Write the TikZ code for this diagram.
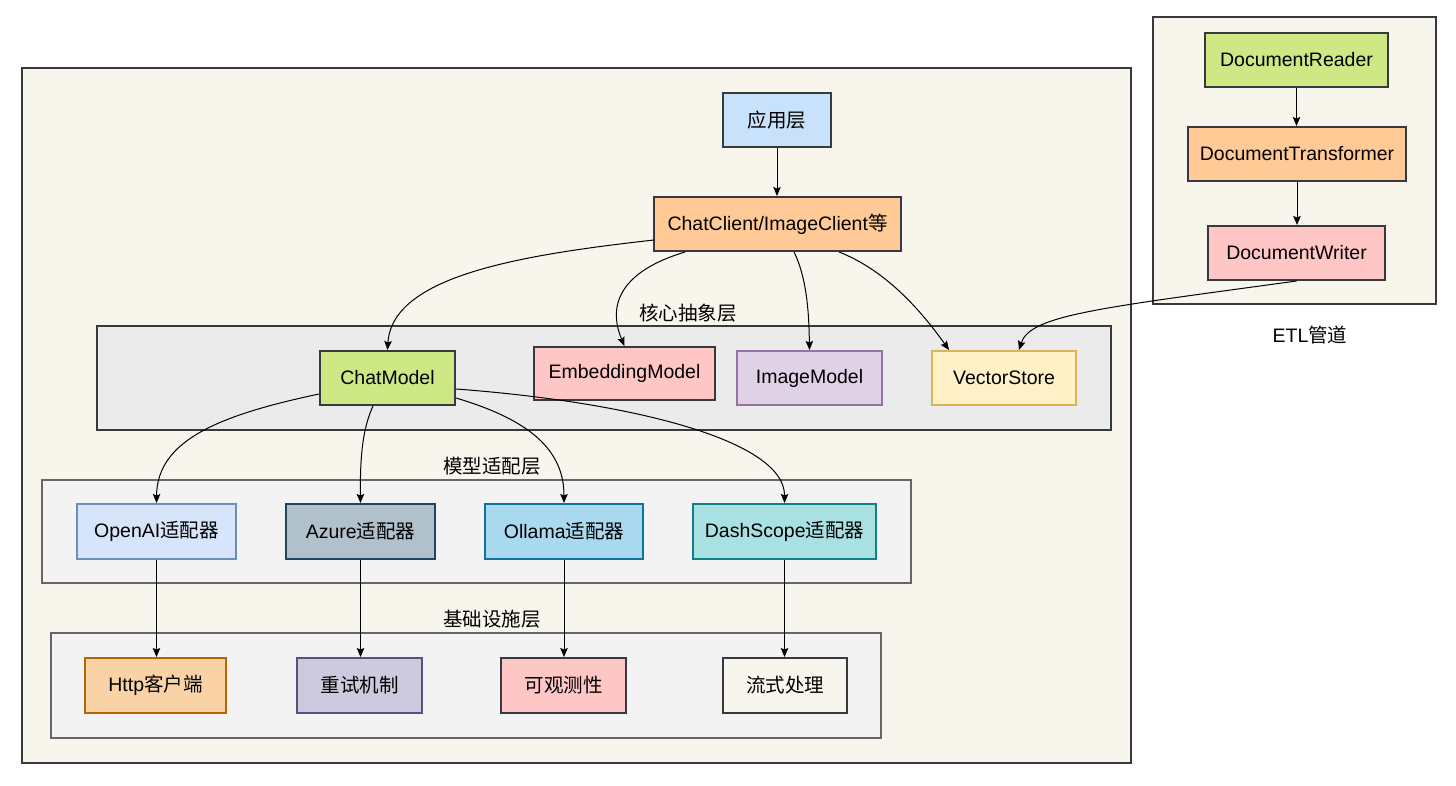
\documentclass[tikz,border=0pt]{standalone}
\usepackage{fontspec}
\setmainfont{Liberation Sans}
\newfontfamily\cjk{Noto Sans CJK SC}
\usetikzlibrary{arrows.meta,calc}
\definecolor{bgmain}{HTML}{F8F6EC}
\definecolor{coref}{HTML}{EBEBEB}
\definecolor{layerf}{HTML}{F3F3F3}
\definecolor{dk}{HTML}{36393D}
\definecolor{gr}{HTML}{666666}
\definecolor{cBlue}{HTML}{C9E2FC}
\definecolor{cOrange}{HTML}{FFCA96}
\definecolor{cGreen}{HTML}{CDE885}
\definecolor{cPink}{HTML}{FFC6C6}
\definecolor{cLilac}{HTML}{E0D2E6}
\definecolor{sLilac}{HTML}{9673A6}
\definecolor{cYellow}{HTML}{FFF0C8}
\definecolor{sYellow}{HTML}{D6B656}
\definecolor{cOpen}{HTML}{D6E5FA}
\definecolor{sOpen}{HTML}{6C8EBF}
\definecolor{cAzure}{HTML}{B0C1CB}
\definecolor{sAzure}{HTML}{23445D}
\definecolor{cOllama}{HTML}{A9D9EE}
\definecolor{sOllama}{HTML}{10739E}
\definecolor{cDash}{HTML}{A9E0E2}
\definecolor{sDash}{HTML}{0E8088}
\definecolor{cHttp}{HTML}{F9D3A6}
\definecolor{sHttp}{HTML}{B46504}
\definecolor{cRetry}{HTML}{CDCADF}
\definecolor{sRetry}{HTML}{56517E}
\tikzset{
  txt/.style={font=\fontsize{19.5}{23}\selectfont, text=black},
  box/.style={txt, draw=dk, line width=2pt, inner sep=0pt, anchor=center},
  container/.style={draw=dk, line width=2pt, inner sep=0pt},
  layerbox/.style={draw=gr, line width=2pt, fill=layerf, inner sep=0pt},
  arr/.style={draw=black, line width=1pt, -{Stealth[length=9pt,width=7.5pt,inset=1.5pt]}},
}
\begin{document}
\begin{tikzpicture}[x=1pt,y=-1pt]
\useasboundingbox[fill=white] (0,0) rectangle (1456,786);
% containers
\node[container, fill=bgmain, minimum width=1109, minimum height=695] (main) at (576.5,415.5) {};
\node[container, fill=bgmain, minimum width=283, minimum height=287] (etl) at (1294.5,160.5) {};
\node[txt] (etllabel) at (1310,335) {ETL{\cjk 管道}};
\node[container, fill=coref, minimum width=1014, minimum height=104] (core) at (604,378) {};
\node[txt] (corelabel) at (688,313) {\cjk 核心抽象层};
\node[layerbox, minimum width=869, minimum height=103] (adapt) at (476.5,531.5) {};
\node[txt] (adaptlabel) at (492,466) {\cjk 模型适配层};
\node[layerbox, minimum width=830, minimum height=105] (infra) at (466,685.5) {};
\node[txt] (infralabel) at (492,619) {\cjk 基础设施层};
% top
\node[box, fill=cBlue, minimum width=108, minimum height=54] (app) at (777,120) {\cjk 应用层};
\node[box, fill=cOrange, minimum width=247, minimum height=54] (cc) at (777.5,224) {ChatClient/ImageClient{\cjk 等}};
% core
\node[box, fill=cGreen, minimum width=135, minimum height=54] (chatm) at (387.5,378) {ChatModel};
\node[box, fill=cPink, minimum width=181, minimum height=53] (emb) at (624.5,373.5) {EmbeddingModel};
\node[box, fill=cLilac, draw=sLilac, minimum width=145, minimum height=54] (img) at (809.5,378) {ImageModel};
\node[box, fill=cYellow, draw=sYellow, minimum width=144, minimum height=54] (vec) at (1004,378) {VectorStore};
% adapters
\node[box, fill=cOpen, draw=sOpen, minimum width=159, minimum height=55] (openai) at (156.5,531.5) {OpenAI{\cjk 适配器}};
\node[box, fill=cAzure, draw=sAzure, minimum width=149, minimum height=55] (azure) at (360.5,531.5) {Azure{\cjk 适配器}};
\node[box, fill=cOllama, draw=sOllama, minimum width=158, minimum height=55] (ollama) at (564,531.5) {Ollama{\cjk 适配器}};
\node[box, fill=cDash, draw=sDash, minimum width=183, minimum height=55] (dash) at (784.5,531.5) {DashScope{\cjk 适配器}};
% infra
\node[box, fill=cHttp, draw=sHttp, minimum width=141, minimum height=55] (http) at (155.5,685.5) {Http{\cjk 客户端}};
\node[box, fill=cRetry, draw=sRetry, minimum width=125, minimum height=55] (retry) at (359.5,685.5) {\cjk 重试机制};
\node[box, fill=cPink, minimum width=125, minimum height=55] (obs) at (563.5,685.5) {\cjk 可观测性};
\node[box, fill=bgmain, minimum width=124, minimum height=55] (stream) at (785,685.5) {\cjk 流式处理};
% ETL
\node[box, fill=cGreen, minimum width=183, minimum height=54] (reader) at (1296.5,60) {DocumentReader};
\node[box, fill=cOrange, minimum width=218, minimum height=54] (trans) at (1297,154) {DocumentTransformer};
\node[box, fill=cPink, minimum width=177, minimum height=54] (writer) at (1296.5,253) {DocumentWriter};
% edges
\draw[arr] (app.south) -- (app.south |- cc.north);
\draw[arr] ($(cc.west)+(1,16)$) .. controls (520,255) and (392,276) .. (chatm.north);
\draw[arr] ($(cc.south west)+(32,0)$) .. controls (612,274) and (610,312) .. (emb.north);
\draw[arr] ($(cc.south west)+(141,0)$) .. controls (808,280) and (809,320) .. (img.north);
\draw[arr] ($(cc.south west)+(186,0)$) .. controls (880,268) and (915,302) .. ($(vec.north west)+(18,0)$);
\draw[arr] (writer.south) .. controls (1100,308) and (1030,315) .. ($(vec.north west)+(88,0)$);
\draw[arr] ($(chatm.south west)+(0,-12)$) .. controls (220,415) and (157,440) .. (openai.north);
\draw[arr] ($(chatm.south west)+(54,0)$) .. controls (362,430) and (360,460) .. (azure.north);
\draw[arr] ($(chatm.south east)+(0,-8)$) .. controls (530,420) and (564,450) .. (ollama.north);
\draw[arr] ($(chatm.south east)+(0,-17)$) .. controls (630,402) and (785,440) .. (dash.north);
\draw[arr] (openai.south) -- (openai.south |- http.north);
\draw[arr] (azure.south) -- (azure.south |- retry.north);
\draw[arr] (ollama.south) -- (ollama.south |- obs.north);
\draw[arr] (dash.south) -- (dash.south |- stream.north);
\draw[arr] (reader.south) -- (reader.south |- trans.north);
\draw[arr] (trans.south) -- (trans.south |- writer.north);
\end{tikzpicture}
\end{document}
